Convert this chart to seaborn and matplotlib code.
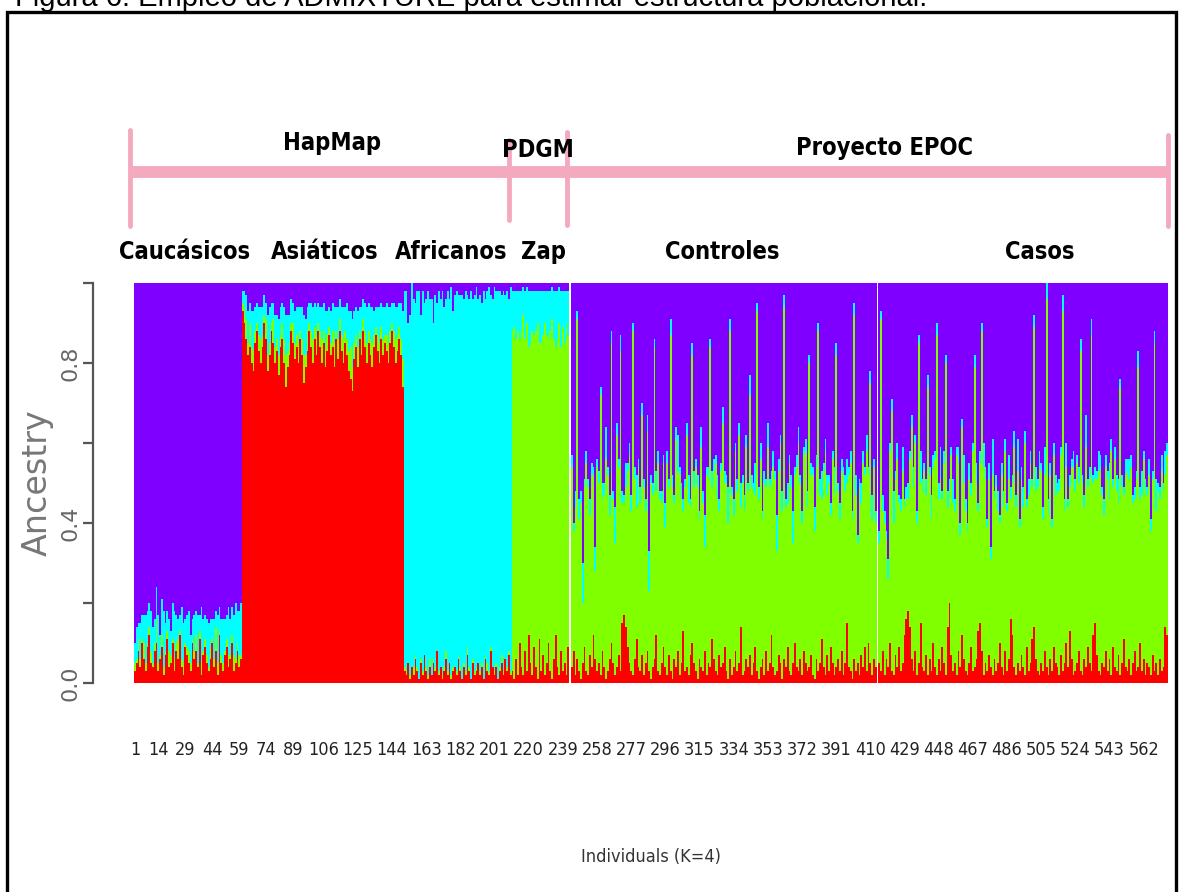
import numpy as np
import pandas as pd
import matplotlib
matplotlib.use("Agg")
import matplotlib.pyplot as plt
import seaborn as sns
from matplotlib.patches import Rectangle
from matplotlib.lines import Line2D
from matplotlib import font_manager as fm

# ---------------- data (ancestry proportions, % per individual) ----------------
groups = ["Caucásicos", "Asiáticos", "Africanos", "Zap", "Controles", "Casos"]
components = ["K1", "K2", "K3", "K4"]          # red, green, cyan, purple
colors = {"K1": "#FF0000", "K2": "#80FF00", "K3": "#00FFFF", "K4": "#8000FF"}

cau_red = [3,5,8,4,10,6,3,9,12,5, 4,8,10,3,6,9,2,7,11,4, 5,10,3,8,6,12,4,2,9,7,
           5,3,10,6,8,4,11,2,7,9, 5,3,6,10,4,8,2,12,5,3, 7,9,4,6,10,3,5,8,4,6]
cau_green = [2,1,3,2,1,4,2,1,2,3, 1,2,6,2,1,3,2,1,2,4, 2,1,3,2,5,1,2,3,1,2,
             3,2,1,2,4,1,2,3,1,2, 2,1,3,1,2,6,3,1,2,2, 1,2,3,1,2,4,1,2,3,1]
cau_cyan = [5,8,4,9,6,7,12,8,6,10, 9,6,8,12,5,9,14,7,5,8, 6,9,12,7,5,4,13,10,6,8,
            10,7,5,9,6,12,4,14,8,6, 9,11,7,5,10,4,12,6,9,11, 8,6,12,9,7,10,14,8,11,13]

asi_red = [93,90,86,82,84,80,78,85,88,83, 80,84,90,86,78,82,88,85,80,83,
           77,84,86,80,74,79,82,88,85,81, 84,80,86,82,75,79,83,88,84,80,
           86,82,88,84,80,85,79,83,87,82, 84,79,86,81,88,83,80,85,82,78,
           76,73,81,84,79,86,82,88,84,80, 85,82,79,84,87,83,80,86,82,85,
           83,80,85,88,84,80,83,86,82,74]
asi_green = [2,4,5,3,6,4,5,3,2,4, 6,3,2,5,4,3,2,6,4,3, 5,3,4,6,8,4,3,2,5,4,
             3,5,2,4,7,3,5,2,4,6, 3,5,2,4,6,3,5,4,2,3, 4,6,2,5,3,4,6,3,4,5,
             8,6,4,3,5,2,4,3,4,5, 3,4,6,3,2,4,5,3,4,2, 4,5,3,2,4,6,4,3,4,7]
asi_cyan = [3,4,6,8,5,9,10,6,5,7, 8,7,5,4,10,9,5,4,8,6, 9,7,5,8,10,9,7,6,5,8,
            7,9,6,8,10,9,6,5,7,8, 6,7,5,6,8,7,9,6,5,8, 7,9,6,8,5,7,8,6,9,10,
            9,12,8,7,9,6,8,5,7,9, 7,8,9,6,5,7,9,6,8,7, 8,9,6,5,7,8,7,6,9,12]

afr_red = [3,2,5,1,4,2,6,3,1,5, 2,7,3,1,4,2,5,3,8,2, 4,1,3,6,2,5,1,3,4,2,
           6,3,1,4,2,7,3,1,5,2, 3,5,2,4,1,6,3,2,8,4, 2,4,1,3,5,2,6,3,7,2]
afr_green = [1,1,0,1,0,2,1,1,0,1, 1,0,1,1,2,0,1,1,0,1, 0,1,1,2,1,0,1,1,0,1,
             1,1,0,1,1,2,1,0,1,1, 1,0,1,1,0,1,2,1,1,0, 1,1,0,1,2,1,0,1,1,1]
afr_cyan = [94,95,85,90,96,92,88,94,97,86, 95,88,92,96,90,94,84,93,87,95,
            92,96,90,88,95,91,97,89,93,95, 90,93,96,91,95,88,92,97,90,94,
            95,91,94,90,97,89,93,96,88,92, 96,93,97,94,90,95,91,94,88,96]

zap_red = [3,1,6,2,10,4,2,8,3,12, 5,2,9,4,1,11,3,7,2,5, 10,3,1,6,12,4,2,8,3,5, 2,9]
zap_green = [85,88,80,86,76,84,90,78,87,72, 80,86,78,84,89,74,82,80,88,82,
             76,85,90,80,72,82,88,76,86,80, 88,78]
zap_cyan = [10,9,12,10,12,10,7,12,9,14, 13,10,11,10,8,13,13,11,8,11,
            12,10,8,12,14,12,9,14,9,13, 8,11]

con_red = [4,8,2,6,3,1,5,9,3,2, 7,4,12,6,3,5,2,8,4,1, 3,6,10,5,2,4,7,3,15,17,
           14,9,5,3,2,6,11,4,3,7, 2,5,8,3,1,4,6,12,3,2, 5,9,4,2,7,3,1,6,4,8,
           2,5,13,3,4,2,7,10,5,3, 1,6,4,3,8,2,5,4,11,6, 3,2,7,4,5,9,3,1,6,2,
           4,8,3,5,14,2,3,6,4,7, 2,5,9,3,1,4,6,2,8,3, 5,12,4,2,3,7,5,1,6,4,
           9,3,2,5,10,4,3,6,2,8, 5,3,4,7,2,1,6,3,5,11, 4,2,7,3,9,5,2,4,6,3,
           8,2,5,15,4,3,1,6,3,5, 2,7,4,9,3,10,5,2,6,4]
con_green = [50,30,42,85,38,44,15,40,52,47, 35,48,40,22,51,45,70,38,43,55,
             49,36,75,41,33,58,47,80,30,28, 35,44,52,40,86,45,33,50,42,60,
             47,38,55,20,49,43,78,36,52,44, 40,46,35,53,42,84,48,39,57,45,
             50,41,30,46,58,43,37,72,44,51, 48,35,55,42,26,50,46,80,38,47,
             52,44,36,49,60,41,47,39,82,45, 38,50,45,57,30,48,40,53,44,65,
             47,43,38,90,45,52,35,48,41,56, 44,38,50,49,30,46,55,42,88,40,
             36,52,47,30,42,50,57,44,38,49, 53,41,76,45,50,37,48,85,42,35,
             49,56,40,47,33,51,45,78,42,38, 45,50,43,35,48,52,40,86,44,30,
             47,38,51,43,55,42,70,39,48,36]
con_cyan = [3,2,4,2,5,3,10,2,3,2, 4,3,2,6,2,3,2,4,3,8, 2,5,3,2,9,3,2,4,3,2,
            6,2,3,4,2,3,8,2,4,3, 2,3,4,10,2,3,2,5,3,2, 3,2,6,3,2,4,3,2,3,9,
            2,4,3,2,3,7,2,3,4,2, 3,2,5,3,8,2,3,2,4,3, 2,6,3,2,4,3,2,9,3,2,
            4,2,3,3,6,2,4,3,2,5, 3,2,8,2,3,4,2,3,2,6, 2,3,4,2,9,3,2,5,3,2,
            5,2,3,8,2,3,4,2,3,2, 3,4,2,3,2,6,3,2,4,7, 2,3,5,2,3,2,7,3,2,4,
            3,2,4,6,2,3,2,3,5,2, 2,5,3,2,4,2,3,6,2,3]

cas_red = [5,3,8,2,6,4,10,3,2,7, 4,9,3,5,12,16,18,14,6,3, 8,2,5,15,4,3,7,2,6,3,
           10,4,2,6,3,9,5,2,14,20, 7,3,5,2,8,4,12,6,3,2, 5,9,3,4,6,13,15,8,2,5,
           3,7,4,2,6,3,5,10,4,2, 8,3,6,16,12,4,2,5,3,7, 4,2,9,3,5,11,14,6,3,2,
           5,3,8,4,2,6,3,9,5,4, 2,7,3,5,10,4,13,6,2,3, 5,8,3,2,6,4,9,5,3,12,
           15,7,3,2,5,4,8,3,6,2, 9,4,3,7,2,5,11,4,3,6, 2,5,8,3,4,10,3,6,2,5,
           4,2,7,3,5,2,6,3,4,14, 12]
cas_green = [30,88,35,38,30,22,48,65,38,44, 52,36,40,48,32,30,28,42,58,46,
             52,38,80,35,44,50,40,72,46,38, 44,52,85,40,48,37,50,78,30,28,
             50,42,38,55,47,33,52,44,40,36, 46,38,55,75,44,30,40,80,52,46,
             36,44,27,50,40,46,38,30,48,42, 50,40,45,30,38,55,42,48,36,44,
             40,58,35,44,50,38,75,42,46,52, 48,38,44,92,40,46,36,48,42,44,
             46,50,90,38,44,40,36,48,52,45, 50,42,80,48,38,55,40,46,84,38,
             36,44,50,52,42,38,46,48,40,56, 40,52,45,38,72,44,36,48,50,45,
             52,40,38,48,75,36,44,50,46,42, 48,36,44,82,38,46,40,50,44,38,
             45]
cas_cyan = [3,2,4,3,2,5,2,3,8,2, 4,2,3,6,2,3,4,2,3,5, 2,3,2,8,3,2,4,3,2,6,
            3,2,3,4,8,2,3,2,4,3, 2,6,3,2,4,3,2,7,3,2, 4,3,2,3,5,2,3,2,6,3,
            2,4,3,9,2,3,5,2,3,4, 3,2,6,3,2,4,3,8,2,3, 5,3,2,4,3,2,3,6,2,4,
            2,3,7,4,4,3,2,3,5,2, 3,2,4,3,6,2,3,2,4,3, 2,4,3,2,3,8,2,3,4,2,
            3,2,5,3,2,4,3,2,9,3, 2,3,4,6,2,3,2,4,3,5, 3,2,3,2,4,3,6,2,3,2,
            4,3,2,3,8,2,3,4,2,6, 3]

group_data = [
    (cau_red, cau_green, cau_cyan),
    (asi_red, asi_green, asi_cyan),
    (afr_red, afr_green, afr_cyan),
    (zap_red, zap_green, zap_cyan),
    (con_red, con_green, con_cyan),
    (cas_red, cas_green, cas_cyan),
]
separator_after = ["Zap", "Controles"]   # thin white gap between these groups

xtick_values = [1, 14, 29, 44, 59, 74, 89, 106, 125, 144, 163, 182, 201, 220, 239,
                258, 277, 296, 315, 334, 353, 372, 391, 410, 429, 448, 467, 486,
                505, 524, 543, 562]
ytick_values = [0.0, 0.2, 0.4, 0.6, 0.8, 1.0]
ytick_labels = ["0.0", "", "0.4", "", "0.8", ""]

super_labels = ["HapMap", "PDGM", "Proyecto EPOC"]
title = "Figura 6. Empleo de ADMIXTURE para estimar estructura poblacional."

# ---------------- build long table ----------------
rows = []
pos = 0
for g, (r, gr, c) in zip(groups, group_data):
    for i in range(len(r)):
        rest = 100 - r[i] - gr[i] - c[i]
        for comp, v in zip(components, (r[i], gr[i], c[i], rest)):
            rows.append((pos, comp, v / 100.0))
        pos += 1
    if g in separator_after:
        pos += 1
n_total = pos
df = pd.DataFrame(rows, columns=["individual", "component", "q"])

# ---------------- fonts: look for a condensed face if installed ----------------
def find_condensed(bold):
    for f in fm.fontManager.ttflist:
        key = (f.name + " " + f.fname).lower()
        if ("narrow" in key or "condensed" in key) and "sans" in key:
            is_bold = f.weight in ("bold", 700, "700") or "bold" in f.fname.lower()
            if is_bold == bold and "oblique" not in key and "italic" not in key:
                return fm.FontProperties(fname=f.fname)
    return None

cond_reg = find_condensed(False)
cond_bold = find_condensed(True)

def fprops(size_cond, size_plain, bold=False):
    base = cond_bold if bold else cond_reg
    if base is not None:
        p = base.copy()
        p.set_size(size_cond)
        return p
    return fm.FontProperties(family="Liberation Sans", size=size_plain,
                             weight="bold" if bold else "normal")

# ---------------- figure ----------------
sns.set_theme(style="white")
plt.rcParams["font.family"] = ["Liberation Sans", "DejaVu Sans"]

W, H = 1179, 892
fig = plt.figure(figsize=(W / 100, H / 100), dpi=100)
fx = lambda px: px / W
fy = lambda py: 1 - py / H

ax = fig.add_axes([fx(134), fy(683), fx(1168) - fx(134), fy(283) - fy(683)])

hue_order = ["K4", "K3", "K2", "K1"]   # last level ends at the bottom of the stack
sns.histplot(data=df, x="individual", weights="q", hue="component",
             hue_order=hue_order, palette=[colors[k] for k in hue_order],
             multiple="stack", discrete=True, element="bars", shrink=1.0,
             linewidth=0, alpha=1, legend=False, ax=ax)

ax.set_xlim(-0.5, n_total - 0.5)
ax.set_ylim(0, 1)
ax.set_xlabel("")
ax.set_ylabel("")

# spines first (set_position resets tick formatting); offset in points
for s in ["top", "right", "bottom"]:
    ax.spines[s].set_visible(False)
ax.spines["left"].set_position(("outward", 41 * 0.72))
ax.spines["left"].set_bounds(0, 1)
ax.spines["left"].set_color("#555555")
ax.spines["left"].set_linewidth(1.6)

# x ticks (individual numbers)
xt_prop = fprops(13, 12)
ax.set_xticks([v - 1 for v in xtick_values])
ax.set_xticklabels([str(v) for v in xtick_values], fontproperties=xt_prop,
                   color="#222222")
ax.tick_params(axis="x", length=0, pad=42)

# y axis R-style
ax.set_yticks(ytick_values)
ax.set_yticklabels(ytick_labels, rotation=90, va="center", ha="right",
                   fontsize=16, fontfamily=["DejaVu Sans"], color="#666666")
ax.tick_params(axis="y", left=True, length=7, width=1.6, color="#555555", pad=2)

fig.text(fx(37), fy(483), "Ancestry", rotation=90, ha="center", va="center",
         fontsize=24, fontfamily=["DejaVu Sans"], color="#777777")
xl_prop = fprops(13, 11.5)
fig.text(fx(651), fy(857), "Individuals (K=4)", ha="center", va="center",
         fontproperties=xl_prop, color="#333333")

# header brackets
pink = "#F4A9BE"
fig.add_artist(Line2D([fx(130), fx(1170)], [fy(172), fy(172)], color=pink, lw=8.5,
                      transform=fig.transFigure, solid_capstyle="butt"))
for xv, y0, y1 in [(130, 130, 226), (509, 140, 220), (567, 132, 225), (1168, 135, 226)]:
    fig.add_artist(Line2D([fx(xv), fx(xv)], [fy(y0), fy(y1)], color=pink, lw=3.5,
                          transform=fig.transFigure, solid_capstyle="round"))

hdr_prop = fprops(17, 15, bold=True)
for txt, xc, yc in zip(super_labels, [332, 538, 885], [143, 150, 148]):
    fig.text(fx(xc), fy(yc), txt, ha="center", va="center",
             fontproperties=hdr_prop, color="black")
for txt, xc in zip(groups, [185, 325, 451, 543, 722, 1040]):
    fig.text(fx(xc), fy(252), txt, ha="center", va="center",
             fontproperties=hdr_prop, color="black")

# outer frame and clipped caption
fig.add_artist(Rectangle((fx(7), fy(1000)), fx(1176) - fx(7), fy(12) - fy(1000),
                         transform=fig.transFigure, fill=False, lw=2.4,
                         edgecolor="black"))
fig.text(fx(15), fy(6), title, ha="left", va="baseline", fontsize=21,
         fontfamily=["Liberation Sans"], color="black")

fig.savefig("out.png", dpi=100, facecolor="white")
